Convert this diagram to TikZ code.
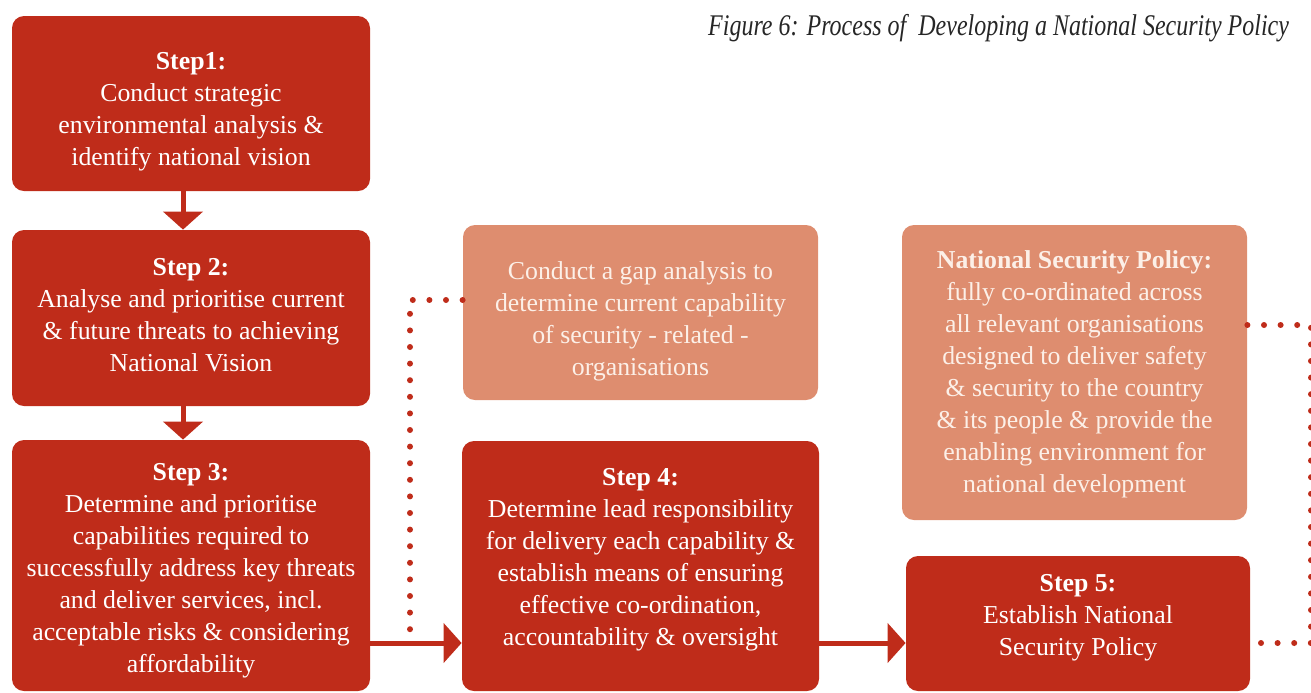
\documentclass[tikz,border=0pt]{standalone}
\usepackage{fontspec}
\setmainfont{Liberation Serif}
\usetikzlibrary{arrows.meta}
\definecolor{nspred}{HTML}{BF2C1A}
\definecolor{nspsalmon}{HTML}{DE8D6F}
\definecolor{nspcream}{HTML}{FCF0E8}
\newcommand{\boxfont}{\fontsize{12.9}{16}\selectfont}
\newcommand{\toppad}[1]{\rule{0pt}{#1}}
\newcommand{\botpad}[1]{\rule[-#1]{0pt}{0pt}}
\tikzset{
  stepbox/.style={rectangle, rounded corners=6pt, fill=nspred, text=white, align=center, font=\boxfont, inner sep=0pt},
  notebox/.style={stepbox, fill=nspsalmon, text=nspcream},
  flowarrow/.style={draw=nspred, line width=2.5pt, -{Triangle[length=9pt,width=19.5pt]}},
  dotline/.style={draw=nspred, line width=3pt, line cap=round, dash pattern=on 0pt off 8.3pt}
}
\begin{document}
\begin{tikzpicture}[x=0.5pt,y=-0.5pt]
				\useasboundingbox (0,0) rectangle (1311,692);
				\node[anchor=base east, font=\fontsize{15}{18}\selectfont\itshape, text=black!85] (cap) at (1296,35) {\scalebox{0.8}[1]{Figure 6: Process of\ \ Developing a National Security Policy}};
				% left column
				\node[stepbox, minimum width=179pt, minimum height=87.5pt] (s1) at (191,103.5) {\toppad{17pt}\textbf{Step1:}\\Conduct strategic\\environmental analysis \&\\identify national vision};
				\node[stepbox, minimum width=179pt, minimum height=88pt] (s2) at (191,318) {\textbf{Step 2:}\\Analyse and prioritise current\\\& future threats to achieving\\National Vision\botpad{3pt}};
				\node[stepbox, minimum width=179pt, minimum height=125.5pt] (s3) at (191,565.5) {\toppad{14pt}\textbf{Step 3:}\\Determine and prioritise\\capabilities required to\\successfully address key threats\\and deliver services, incl.\\acceptable risks \& considering\\affordability};
				% middle column
				\node[notebox, minimum width=177.5pt, minimum height=87.5pt] (gap) at (640.5,312.5) {\toppad{18pt}Conduct a gap analysis to\\determine current capability\\of security - related -\\organisations};
				\node[stepbox, minimum width=178.5pt, minimum height=125pt] (s4) at (640.5,566) {\textbf{Step 4:}\\Determine lead responsibility\\for delivery each capability \&\\establish means of ensuring\\effective co-ordination,\\accountability \& oversight\botpad{8.8pt}};
				% right column
				\node[notebox, minimum width=172.5pt, minimum height=147.5pt] (nsp) at (1074.5,372.5) {\toppad{11pt}\textbf{National Security Policy:}\\fully co-ordinated across\\all relevant organisations\\designed to deliver safety\\\& security to the country\\\& its people \& provide the\\enabling environment for\\national development};
				\node[stepbox, minimum width=172pt, minimum height=67.5pt] (s5) at (1078,623.5) {\textbf{Step 5:}\\Establish National\\Security Policy\botpad{8.8pt}};
				% arrows
				\coordinate (dn) at (183,0);
				\coordinate (lvl) at (0,643);
				\draw[flowarrow] (s1.south -| dn) -- (s2.north -| dn);
				\draw[flowarrow] (s2.south -| dn) -- (s3.north -| dn);
				\draw[flowarrow] (s3.east |- lvl) -- (s4.west |- lvl);
				\draw[flowarrow] (s4.east |- lvl) -- (s5.west |- lvl);
				% dotted feedback lines
				\coordinate (gapdot) at (410,300);
				\coordinate (nspdot) at (1311,325);
				\draw[dotline] (gap.west |- gapdot) -- (gapdot) -- (gapdot |- lvl);
				\draw[dotline] (nsp.east |- nspdot) -- (nspdot) -- (nspdot |- lvl) -- (s5.east |- lvl);
\end{tikzpicture}
\end{document}
